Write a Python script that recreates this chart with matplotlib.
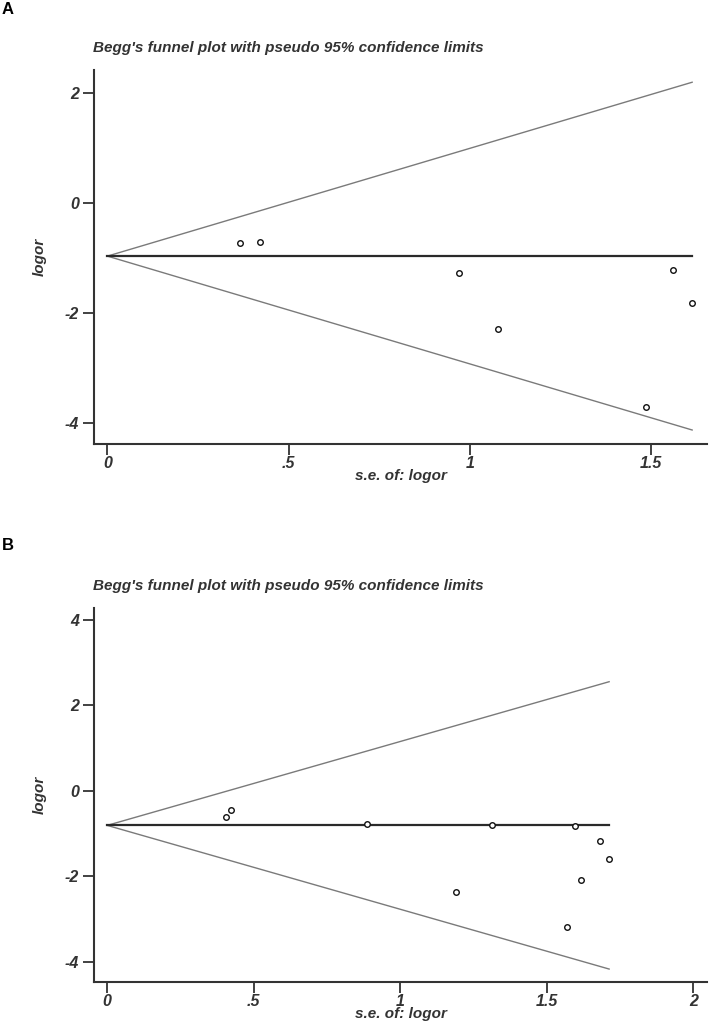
import matplotlib
matplotlib.use("Agg")
import matplotlib.pyplot as plt

plt.rcParams['font.family'] = ['Liberation Sans', 'DejaVu Sans']

# ---- Data ----
title_text = "Begg's funnel plot with pseudo 95% confidence limits"
panel_labels = ["A", "B"]

se_A = [0.366, 0.421, 0.970, 1.078, 1.485, 1.559, 1.614]
logor_A = [-0.733, -0.709, -1.278, -2.29, -3.715, -1.224, -1.824]
pooled_A = -0.964
semax_A = 1.613

se_B = [0.404, 0.423, 0.886, 1.313, 1.596, 1.683, 1.713, 1.616, 1.190, 1.570]
logor_B = [-0.615, -0.444, -0.771, -0.794, -0.834, -1.18, -1.605, -2.095, -2.376, -3.185]
pooled_B = -0.81
semax_B = 1.713

xticks_A = [0, 0.5, 1, 1.5]
xticklabels_A = ["0", ".5", "1", "1.5"]
yticks_A = [-4, -2, 0, 2]
xticks_B = [0, 0.5, 1, 1.5, 2]
xticklabels_B = ["0", ".5", "1", "1.5", "2"]
yticks_B = [-4, -2, 0, 2, 4]

W, H = 709, 1024
fig = plt.figure(figsize=(W / 100, H / 100), dpi=100)

def px_axes(x0, y0, x1, y1):
    return fig.add_axes([x0 / W, 1 - y1 / H, (x1 - x0) / W, (y1 - y0) / H])

dark = '#333333'
tickfont = dict(fontsize=11.5, fontweight='bold', fontstyle='italic', color=dark)

def draw(ax, se, lo, pooled, semax, xlim, ylim, xt, xtl, yt):
    ax.plot([0, semax], [pooled + 1.96 * 0, pooled + 1.96 * semax], color='#7a7a7a', lw=1.0)
    ax.plot([0, semax], [pooled - 1.96 * 0, pooled - 1.96 * semax], color='#7a7a7a', lw=1.0)
    ax.plot([0, semax], [pooled, pooled], color='#2a2a2a', lw=1.6)
    ax.scatter(se, lo, s=16, facecolors='white', edgecolors='#111111', linewidths=1.0, zorder=3)
    ax.set_xlim(*xlim)
    ax.set_ylim(*ylim)
    ax.set_xticks(xt)
    ax.set_xticklabels(xtl, **tickfont)
    ax.set_yticks(yt)
    ax.set_yticklabels([str(v) for v in yt], **tickfont)
    for s in ['top', 'right']:
        ax.spines[s].set_visible(False)
    for s in ['left', 'bottom']:
        ax.spines[s].set_color(dark)
        ax.spines[s].set_linewidth(1.5)
    ax.tick_params(direction='out', length=8, width=1.3, color=dark)
    ax.tick_params(axis='x', pad=0.5)
    ax.tick_params(axis='y', pad=3)
    ax.set_ylabel('logor', fontsize=11, fontweight='bold', fontstyle='italic', color=dark, labelpad=13)
    ax.set_xlabel('s.e. of: logor', fontsize=11, fontweight='bold', fontstyle='italic', color=dark, labelpad=-1)

axA = px_axes(94, 70, 707, 444)
draw(axA, se_A, logor_A, pooled_A, semax_A, (-0.037, 1.654), (-4.38, 2.42),
     xticks_A, xticklabels_A, yticks_A)
axB = px_axes(94, 608, 707, 982)
draw(axB, se_B, logor_B, pooled_B, semax_B, (-0.045, 2.047), (-4.47, 4.27),
     xticks_B, xticklabels_B, yticks_B)

fig.text(93 / W, 1 - 48 / H, title_text, fontsize=11, fontweight='bold', fontstyle='italic',
         color=dark, va='center', ha='left')
fig.text(93 / W, 1 - 586 / H, title_text, fontsize=11, fontweight='bold', fontstyle='italic',
         color=dark, va='center', ha='left')
fig.text(2 / W, 1 - 9 / H, panel_labels[0], fontsize=12, fontweight='bold', va='center', ha='left')
fig.text(2 / W, 1 - 546 / H, panel_labels[1], fontsize=12, fontweight='bold', va='center', ha='left')

fig.savefig('out.png', dpi=100)
